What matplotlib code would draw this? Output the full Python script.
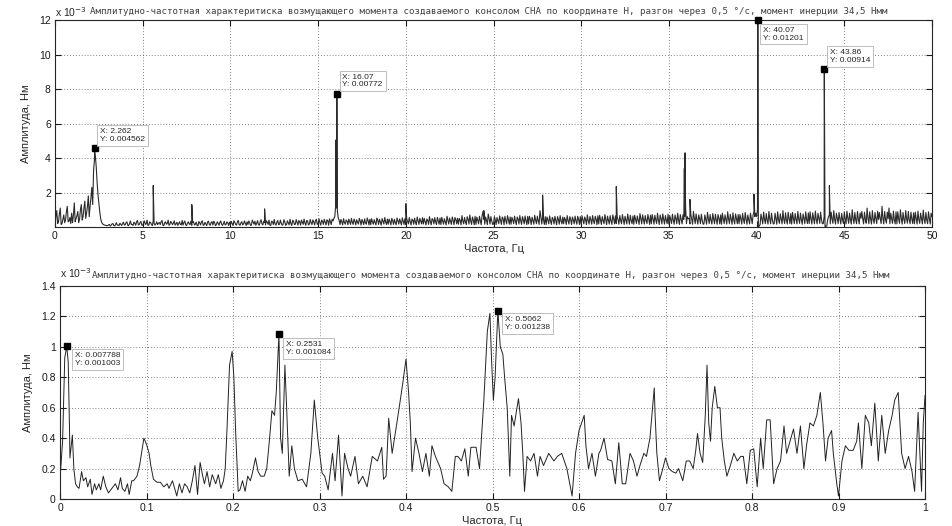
import numpy as np
import matplotlib.pyplot as plt

plt.rcParams['font.family'] = ['Liberation Sans', 'DejaVu Sans']

title_txt = ('Амплитудно-частотная характеритиска возмущающего момента создаваемого '
             'консолом СНА по координате Н, разгон через 0,5 °/с, момент инерции 34,5 Нмм')
ylab = 'Амплитуда, Нм'
xlab = 'Частота, Гц'

# top spectrum: noise floor every 0.05 Hz (one row per Hz), in 1e-2 * 1e-3 units
noise_rows = [
    [5, 60, 95, 20, 30, 75, 110, 15, 20, 45, 70, 25, 40, 90, 120, 30, 35, 55, 20, 80],
    [25, 70, 140, 30, 50, 65, 90, 25, 45, 100, 130, 40, 60, 110, 150, 50, 80, 120, 180, 60],
    [120, 170, 230, 130, 330, 390, 410, 350, 260, 190, 140, 90, 50, 30, 20, 15, 12, 10, 10, 8],
    [8, 12, 15, 6, 10, 18, 20, 9, 6, 14, 25, 11, 12, 8, 22, 15, 9, 18, 28, 12],
    [12, 25, 30, 10, 8, 20, 35, 14, 15, 9, 28, 22, 10, 30, 38, 12, 14, 26, 32, 11],
    [10, 22, 35, 15, 18, 40, 9, 12, 30, 25, 15, 8, 36, 20, 11, 18, 30, 14, 22, 26],
    [14, 30, 38, 10, 8, 25, 30, 16, 20, 40, 10, 15, 33, 25, 13, 22, 36, 11, 18, 28],
    [9, 20, 30, 15, 12, 38, 11, 26, 35, 14, 8, 22, 30, 18, 14, 34, 10, 25, 30, 12],
    [15, 28, 10, 7, 32, 24, 12, 30, 36, 9, 13, 27, 18, 8, 29, 34, 14, 10, 26, 31],
    [11, 33, 26, 8, 14, 30, 22, 10, 27, 35, 16, 9, 20, 33, 12, 15, 30, 24, 9, 28],
    [13, 32, 20, 8, 36, 27, 15, 11, 30, 38, 14, 10, 24, 31, 12, 18, 35, 22, 9, 30],
    [14, 35, 24, 9, 12, 40, 28, 16, 33, 10, 22, 37, 13, 11, 30, 42, 18, 12, 34, 26],
    [12, 36, 28, 15, 40, 11, 9, 34, 30, 14, 44, 18, 11, 27, 38, 13, 16, 40, 22, 10],
    [15, 42, 30, 10, 14, 36, 24, 12, 45, 20, 9, 39, 33, 14, 16, 43, 26, 11, 38, 30],
    [11, 40, 28, 15, 46, 22, 10, 38, 35, 12, 17, 44, 25, 14, 41, 30, 12, 36, 45, 16],
    [16, 48, 25, 11, 40, 33, 15, 45, 28, 12, 42, 36, 10, 47, 30, 14, 45, 35, 50, 60],
    [120, 110, 90, 50, 40, 14, 44, 30, 12, 48, 26, 16, 41, 35, 13, 46, 30, 15, 50, 28],
    [15, 46, 33, 12, 42, 28, 17, 50, 35, 11, 44, 30, 14, 47, 24, 16, 52, 38, 12, 45],
    [13, 48, 30, 16, 43, 26, 12, 52, 40, 15, 45, 28, 11, 49, 34, 17, 55, 30, 14, 46],
    [16, 46, 32, 12, 50, 38, 15, 44, 26, 13, 52, 36, 17, 47, 30, 12, 53, 35, 15, 48],
    [14, 48, 34, 18, 55, 30, 12, 46, 40, 16, 51, 28, 13, 58, 36, 15, 50, 33, 18, 54],
    [17, 50, 30, 12, 47, 38, 15, 60, 33, 13, 49, 42, 18, 54, 30, 14, 56, 36, 16, 52],
    [14, 56, 35, 16, 48, 30, 12, 62, 40, 17, 52, 33, 15, 58, 38, 13, 55, 44, 18, 50],
    [16, 50, 38, 13, 66, 35, 18, 55, 30, 14, 60, 45, 17, 70, 36, 15, 58, 40, 13, 62],
    [15, 57, 40, 18, 62, 36, 13, 65, 90, 45, 16, 58, 38, 14, 75, 50, 17, 60, 35, 15],
    [17, 60, 42, 14, 55, 36, 19, 64, 40, 15, 58, 48, 13, 62, 38, 18, 66, 44, 16, 58],
    [16, 56, 40, 19, 63, 35, 14, 58, 46, 17, 66, 38, 15, 60, 42, 18, 64, 36, 14, 62],
    [18, 62, 44, 14, 57, 38, 16, 68, 40, 19, 63, 36, 15, 95, 60, 17, 58, 42, 15, 60],
    [14, 58, 40, 18, 64, 36, 15, 56, 45, 17, 62, 38, 13, 60, 44, 16, 66, 35, 18, 58],
    [19, 55, 42, 15, 66, 38, 17, 60, 44, 14, 58, 40, 18, 63, 36, 16, 62, 45, 15, 60],
    [15, 64, 40, 18, 58, 44, 14, 70, 38, 17, 61, 42, 16, 66, 36, 19, 62, 45, 14, 65],
    [18, 68, 42, 15, 60, 38, 19, 72, 44, 14, 63, 40, 17, 66, 36, 15, 70, 48, 18, 64],
    [20, 60, 42, 16, 66, 38, 19, 72, 45, 15, 62, 40, 18, 75, 44, 16, 68, 38, 19, 64],
    [16, 68, 44, 20, 64, 40, 15, 78, 46, 18, 70, 42, 17, 66, 38, 20, 72, 48, 15, 68],
    [19, 72, 46, 16, 68, 42, 20, 80, 40, 15, 70, 48, 18, 76, 44, 17, 66, 40, 19, 74],
    [17, 66, 44, 20, 74, 40, 16, 70, 48, 19, 80, 42, 15, 72, 46, 18, 70, 44, 60, 120],
    [20, 60, 48, 50, 18, 74, 46, 16, 90, 50, 20, 76, 42, 17, 70, 48, 19, 74, 40, 16],
    [18, 70, 44, 16, 85, 48, 20, 72, 40, 17, 78, 46, 19, 74, 42, 16, 72, 50, 18, 70],
    [16, 80, 46, 19, 70, 42, 17, 88, 48, 20, 74, 44, 16, 82, 40, 18, 76, 50, 19, 72],
    [19, 72, 48, 17, 78, 44, 20, 84, 46, 16, 70, 42, 18, 80, 50, 19, 70, 90, 60, 80],
    [60, 100, 2, 5, 15, 75, 48, 18, 86, 44, 20, 78, 40, 17, 90, 46, 19, 80, 42, 18],
    [19, 80, 46, 16, 88, 42, 21, 76, 48, 18, 95, 44, 20, 82, 40, 17, 86, 50, 19, 78],
    [17, 85, 48, 20, 78, 44, 18, 90, 46, 21, 80, 42, 16, 76, 50, 19, 88, 44, 20, 82],
    [20, 88, 46, 17, 82, 48, 19, 92, 44, 18, 80, 50, 21, 86, 42, 19, 20, 60, 3, 5],
    [5, 40, 60, 70, 18, 86, 48, 21, 95, 44, 17, 80, 50, 20, 84, 46, 18, 78, 42, 20],
    [88, 46, 18, 92, 50, 21, 80, 44, 17, 100, 48, 20, 84, 42, 19, 90, 46, 18, 82, 50],
    [90, 48, 18, 86, 44, 22, 110, 50, 19, 88, 46, 17, 95, 42, 21, 84, 48, 20, 92, 44],
    [84, 46, 20, 120, 50, 18, 90, 44, 22, 86, 48, 110, 19, 80, 46, 21, 92, 42, 18, 88],
    [18, 88, 46, 21, 100, 50, 17, 84, 44, 20, 95, 48, 22, 90, 42, 19, 86, 46, 20, 82],
    [19, 86, 48, 17, 92, 44, 21, 80, 50, 18, 98, 46, 20, 84, 42, 19, 88, 48, 17, 80],
    [60],
]

spike_f = [2.262, 5.6, 7.8, 11.95, 16.02, 16.07, 20.0, 24.45, 27.8, 32.0,
           35.88, 35.92, 36.2, 39.85, 40.07, 43.86, 44.15]
spike_a = [4.562, 2.4, 1.3, 1.05, 5.05, 7.72, 1.35, 0.95, 1.85, 2.35,
           3.4, 4.3, 1.6, 1.9, 12.01, 9.14, 2.4]

top_tips_x = [2.262, 16.07, 40.07, 43.86]
top_tips_y = [4.562, 7.72, 12.01, 9.14]
top_tips_lbl = ['X: 2.262\nY: 0.004562', 'X: 16.07\nY: 0.00772',
                'X: 40.07\nY: 0.01201', 'X: 43.86\nY: 0.00914']

# bottom spectrum (x in Hz, y in 1e-3 units)
low_f = [0.0, 0.003, 0.0055, 0.0078, 0.0095, 0.011, 0.0115, 0.013, 0.0143, 0.016,
         0.018, 0.020, 0.022, 0.025, 0.027, 0.030, 0.032, 0.035, 0.037, 0.040,
         0.042, 0.045, 0.047, 0.050, 0.053, 0.056, 0.060, 0.064, 0.067, 0.070,
         0.072, 0.075, 0.078, 0.080, 0.083, 0.085, 0.089, 0.092, 0.097, 0.100,
         0.103, 0.105, 0.108, 0.112, 0.116, 0.120, 0.124, 0.126, 0.130, 0.132,
         0.135, 0.138, 0.141, 0.144, 0.147, 0.150, 0.153, 0.156, 0.159, 0.162,
         0.165, 0.167, 0.170, 0.173, 0.176, 0.180, 0.183, 0.186, 0.189, 0.191,
         0.193, 0.196, 0.199, 0.201, 0.203, 0.206, 0.208, 0.211, 0.214, 0.217,
         0.220, 0.222, 0.226, 0.229, 0.232, 0.236, 0.239, 0.242, 0.245, 0.248,
         0.250, 0.2531, 0.255, 0.257, 0.260, 0.262, 0.265, 0.268, 0.271, 0.275,
         0.280, 0.285, 0.290, 0.294, 0.298, 0.303, 0.306, 0.310, 0.315, 0.318,
         0.322, 0.326, 0.329, 0.333, 0.336, 0.341, 0.345, 0.350, 0.355, 0.361,
         0.367, 0.372, 0.374, 0.377, 0.380, 0.384, 0.390, 0.396, 0.400, 0.403,
         0.405, 0.407, 0.411, 0.415, 0.419, 0.423, 0.427, 0.430, 0.434, 0.440,
         0.444, 0.449, 0.453, 0.457, 0.460, 0.464, 0.468, 0.472, 0.475, 0.481,
         0.485, 0.490, 0.494, 0.497, 0.499, 0.501, 0.503, 0.5062, 0.509, 0.512,
         0.514, 0.517, 0.520, 0.522, 0.525, 0.530, 0.533, 0.535, 0.537, 0.540,
         0.544, 0.548, 0.552, 0.555, 0.559, 0.565, 0.571, 0.575, 0.580, 0.586,
         0.592, 0.596, 0.600, 0.606, 0.608, 0.611, 0.615, 0.619, 0.623, 0.625,
         0.629, 0.633, 0.638, 0.642, 0.646, 0.650, 0.654, 0.659, 0.663, 0.667,
         0.671, 0.675, 0.678, 0.682, 0.685, 0.687, 0.688, 0.690, 0.693, 0.696,
         0.700, 0.704, 0.708, 0.712, 0.715, 0.720, 0.724, 0.728, 0.732, 0.735,
         0.737, 0.740, 0.743, 0.746, 0.748, 0.750, 0.752, 0.754, 0.757, 0.760,
         0.763, 0.765, 0.768, 0.771, 0.775, 0.779, 0.783, 0.787, 0.790, 0.794,
         0.798, 0.802, 0.806, 0.810, 0.813, 0.817, 0.821, 0.825, 0.829, 0.833,
         0.837, 0.840, 0.844, 0.848, 0.852, 0.856, 0.860, 0.863, 0.867, 0.871,
         0.875, 0.879, 0.882, 0.885, 0.888, 0.892, 0.894, 0.898, 0.900, 0.904,
         0.908, 0.912, 0.917, 0.921, 0.923, 0.927, 0.931, 0.935, 0.938, 0.942,
         0.946, 0.950, 0.954, 0.958, 0.962, 0.965, 0.969, 0.973, 0.977, 0.981,
         0.985, 0.988, 0.992, 0.996, 0.998, 1.000]
low_a = [0.13, 0.38, 0.93, 1.003, 0.90, 0.46, 0.27, 0.35, 0.42, 0.20,
         0.10, 0.08, 0.07, 0.18, 0.12, 0.14, 0.08, 0.13, 0.03, 0.10,
         0.06, 0.10, 0.06, 0.15, 0.08, 0.04, 0.07, 0.10, 0.06, 0.14,
         0.07, 0.05, 0.10, 0.03, 0.12, 0.12, 0.15, 0.22, 0.40, 0.36,
         0.30, 0.22, 0.13, 0.11, 0.11, 0.08, 0.10, 0.07, 0.12, 0.08,
         0.02, 0.10, 0.04, 0.10, 0.08, 0.04, 0.12, 0.22, 0.03, 0.24,
         0.15, 0.10, 0.18, 0.08, 0.16, 0.10, 0.16, 0.07, 0.12, 0.20,
         0.45, 0.88, 0.97, 0.80, 0.45, 0.05, 0.06, 0.12, 0.05, 0.15,
         0.12, 0.16, 0.27, 0.18, 0.15, 0.15, 0.20, 0.38, 0.58, 0.55,
         0.70, 1.084, 0.40, 0.30, 0.88, 0.60, 0.15, 0.35, 0.20, 0.12,
         0.13, 0.08, 0.30, 0.65, 0.40, 0.17, 0.15, 0.06, 0.30, 0.12,
         0.42, 0.02, 0.30, 0.20, 0.15, 0.28, 0.10, 0.15, 0.08, 0.28,
         0.25, 0.34, 0.13, 0.15, 0.53, 0.30, 0.52, 0.75, 0.92, 0.70,
         0.50, 0.18, 0.40, 0.30, 0.18, 0.30, 0.15, 0.35, 0.28, 0.20,
         0.10, 0.08, 0.05, 0.28, 0.28, 0.25, 0.33, 0.15, 0.34, 0.34,
         0.20, 0.65, 1.10, 1.22, 0.90, 0.65, 0.80, 1.238, 1.00, 0.95,
         0.80, 0.60, 0.15, 0.55, 0.48, 0.66, 0.50, 0.30, 0.05, 0.28,
         0.25, 0.30, 0.15, 0.28, 0.22, 0.30, 0.25, 0.28, 0.30, 0.20,
         0.02, 0.30, 0.45, 0.55, 0.35, 0.20, 0.30, 0.15, 0.30, 0.32,
         0.40, 0.26, 0.25, 0.10, 0.37, 0.10, 0.10, 0.30, 0.25, 0.15,
         0.23, 0.30, 0.28, 0.40, 0.60, 0.73, 0.55, 0.30, 0.12, 0.18,
         0.27, 0.20, 0.18, 0.17, 0.20, 0.12, 0.25, 0.25, 0.20, 0.32,
         0.43, 0.30, 0.24, 0.55, 0.88, 0.50, 0.38, 0.60, 0.74, 0.60,
         0.60, 0.40, 0.25, 0.15, 0.22, 0.30, 0.25, 0.28, 0.28, 0.10,
         0.32, 0.33, 0.08, 0.40, 0.20, 0.52, 0.52, 0.10, 0.20, 0.25,
         0.48, 0.30, 0.38, 0.46, 0.30, 0.48, 0.20, 0.35, 0.50, 0.48,
         0.55, 0.70, 0.50, 0.25, 0.40, 0.45, 0.30, 0.10, 0.02, 0.25,
         0.35, 0.32, 0.32, 0.38, 0.50, 0.20, 0.55, 0.50, 0.35, 0.63,
         0.25, 0.55, 0.30, 0.45, 0.55, 0.65, 0.70, 0.30, 0.20, 0.28,
         0.18, 0.05, 0.57, 0.05, 0.50, 0.68]

low_tips_x = [0.007788, 0.2531, 0.5062]
low_tips_y = [1.003, 1.084, 1.238]
low_tips_lbl = ['X: 0.007788\nY: 0.001003', 'X: 0.2531\nY: 0.001084',
                'X: 0.5062\nY: 0.001238']

# build the top series
noise = [v / 100.0 for row in noise_rows for v in row]
f_grid = [i / 20.0 for i in range(len(noise))]
pts = sorted(list(zip(f_grid, noise)) + list(zip(spike_f, spike_a)))
top_f = [p[0] for p in pts]
top_a = [p[1] for p in pts]

W, H = 952, 526
fig = plt.figure(figsize=(W / 100, H / 100), dpi=100)
fig.patch.set_facecolor('white')

def px_axes(x0, x1, ytop, ybot):
    return fig.add_axes([x0 / W, 1 - ybot / H, (x1 - x0) / W, (ybot - ytop) / H])

ax1 = px_axes(55, 932, 20, 227)
ax2 = px_axes(60, 925, 286, 499)

def matlab_style(ax):
    ax.tick_params(direction='in', top=True, right=True, length=4, width=0.8,
                   labelsize=7.5, colors='0.1', pad=3)
    ax.grid(True, linestyle=(0, (1, 2.5)), color='0.35', linewidth=0.6)
    for s in ax.spines.values():
        s.set_linewidth(0.8)
        s.set_color('0.15')

ax1.plot(top_f, top_a, color='#2b2b2b', linewidth=0.8)
ax1.set_xlim(0, 50)
ax1.set_ylim(0, 12)
ax1.set_xticks(np.arange(0, 51, 5))
ax1.set_xticklabels([str(v) for v in range(0, 51, 5)])
ax1.set_yticks([2, 4, 6, 8, 10, 12])
ax1.set_yticklabels(['2', '4', '6', '8', '10', '12'])
matlab_style(ax1)

ax2.plot(low_f, low_a, color='#222222', linewidth=0.7)
ax2.set_xlim(0, 1)
ax2.set_ylim(0, 1.4)
ax2.set_xticks(np.arange(0, 1.01, 0.1))
ax2.set_xticklabels(['0', '0.1', '0.2', '0.3', '0.4', '0.5', '0.6', '0.7', '0.8', '0.9', '1'])
ax2.set_yticks(np.arange(0, 1.41, 0.2))
ax2.set_yticklabels(['0', '0.2', '0.4', '0.6', '0.8', '1', '1.2', '1.4'])
matlab_style(ax2)

# data tips
top_off = [(4, 4, 'bottom'), (4, 4, 'bottom'), (4, -5, 'top'), (4, 4, 'bottom')]
low_off = [(6, -4, 'top'), (5, -5, 'top'), (5, -4, 'top')]
for ax, xs, ys, lbls, offs in [(ax1, top_tips_x, top_tips_y, top_tips_lbl, top_off),
                               (ax2, low_tips_x, low_tips_y, low_tips_lbl, low_off)]:
    ax.plot(xs, ys, 's', color='black', markersize=4.5, clip_on=False, zorder=5)
    for x, y, t, (dx, dy, va) in zip(xs, ys, lbls, offs):
        ax.annotate(t, (x, y), xytext=(dx, dy), textcoords='offset points',
                    ha='left', va=va, fontsize=6, color='0.15', linespacing=1.15,
                    bbox=dict(boxstyle='square,pad=0.35', fc='white', ec='0.7', lw=0.6),
                    zorder=6)

for ax in (ax1, ax2):
    ax.set_xlabel(xlab, fontsize=8, color='0.15', labelpad=2)
    ax.set_ylabel(ylab, fontsize=8, color='0.15', labelpad=6)

fig.text(55 / W, 1 - 12 / H, 'x 10$^{-3}$', fontsize=7.5, color='0.15', va='center', ha='left')
fig.text(60 / W, 1 - 273 / H, 'x 10$^{-3}$', fontsize=7.5, color='0.15', va='center', ha='left')
fig.text(90 / W, 1 - 12 / H, title_txt, fontsize=6.6, family='DejaVu Sans Mono',
         color='0.25', va='center', ha='left')
fig.text(92 / W, 1 - 276 / H, title_txt, fontsize=6.6, family='DejaVu Sans Mono',
         color='0.25', va='center', ha='left')

fig.savefig('out.png', dpi=100, facecolor='white')
